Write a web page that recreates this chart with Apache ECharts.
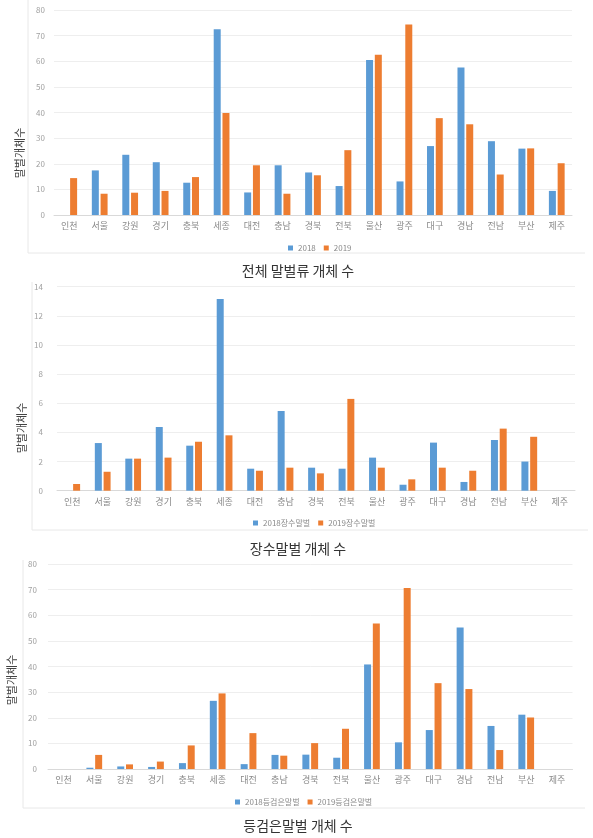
<!DOCTYPE html>
<html>
<head>
<meta charset="utf-8">
<script src="https://cdn.jsdelivr.net/npm/echarts@6/dist/echarts.min.js"></script>
<style>
html,body{margin:0;padding:0;background:#fff;}
#c{width:593px;height:838px;}
</style>
</head>
<body>
<div id="c"></div>
<script>
const categories = ['인천','서울','강원','경기','충북','세종','대전','충남','경북','전북','울산','광주','대구','경남','전남','부산','제주'];
const total2018 = [0,17.4,23.5,20.6,12.6,72.5,8.8,19.4,16.6,11.3,60.5,13.1,26.9,57.6,28.8,25.9,9.4];
const total2019 = [14.4,8.3,8.7,9.4,14.8,39.8,19.4,8.3,15.5,25.3,62.5,74.3,37.8,35.4,15.8,26,20.2];
const jangsu2018 = [0,3.27,2.2,4.37,3.09,13.16,1.51,5.47,1.58,1.51,2.27,0.41,3.3,0.6,3.48,2.0,0];
const jangsu2019 = [0.46,1.3,2.2,2.27,3.36,3.8,1.37,1.58,1.19,6.3,1.58,0.78,1.58,1.37,4.26,3.7,0];
const deung2018 = [0,0.5,1.0,0.8,2.3,26.6,1.9,5.5,5.6,4.4,40.8,10.4,15.2,55.2,16.8,21.2,0];
const deung2019 = [0,5.5,1.8,2.9,9.2,29.5,14.0,5.2,10.1,15.7,56.8,70.6,33.5,31.2,7.4,20.1,0];
const names1 = ['2018','2019'];
const names2 = ['2018장수말벌','2019장수말벌'];
const names3 = ['2018등검은말벌','2019등검은말벌'];
const yTitle = '말벌개체수';
const captions = ['전체 말벌류 개체 수','장수말벌 개체 수','등검은말벌 개체 수'];

const FONT = '"Noto Sans CJK KR", "Noto Sans", sans-serif';
const BLUE = '#5B9BD5', ORANGE = '#ED7D31';
const chart = echarts.init(document.getElementById('c'), null, {renderer:'canvas'});

const grids = [
  {left:54, top:10, width:518, height:205},
  {left:57, top:286.7, width:518, height:204},
  {left:48, top:564, width:524.5, height:205}
];
const yCfg = [
  {max:80, interval:10, margin:9},
  {max:14, interval:2, margin:14},
  {max:80, interval:10, margin:11}
];
const xAxes = grids.map((g,i)=>({
  type:'category', gridIndex:i, data:categories,
  axisLine:{lineStyle:{color:'#d9d9d9'}}, axisTick:{show:false},
  axisLabel:{color:'#8a8a8a', fontSize:9, fontFamily:FONT, margin:6, interval:0}
}));
const yAxes = yCfg.map((c,i)=>({
  type:'value', gridIndex:i, min:0, max:c.max, interval:c.interval,
  axisLine:{show:false}, axisTick:{show:false},
  splitLine:{lineStyle:{color:'#eeeeee'}},
  axisLabel:{color:'#a0a0a0', fontSize:8, fontFamily:FONT, margin:c.margin}
}));
function bar(name, data, idx, color){
  return {name, type:'bar', xAxisIndex:idx, yAxisIndex:idx, data,
    barWidth:7, barGap:'25%', itemStyle:{color}, animation:false};
}
const series = [
  bar(names1[0], total2018, 0, BLUE), bar(names1[1], total2019, 0, ORANGE),
  bar(names2[0], jangsu2018, 1, BLUE), bar(names2[1], jangsu2019, 1, ORANGE),
  bar(names3[0], deung2018, 2, BLUE), bar(names3[1], deung2019, 2, ORANGE)
];
const legendBase = {itemWidth:5, itemHeight:5, itemGap:8, icon:'rect',
  textStyle:{color:'#8a8a8a', fontSize:8, fontFamily:FONT}};
const legends = [
  Object.assign({data:names1, top:239}, legendBase, {left:283}),
  Object.assign({data:names2, top:514}, legendBase, {left:248}),
  Object.assign({data:names3, top:793}, legendBase, {left:230})
];
const frameColor = '#e8e8e8';
const graphic = [
  {type:'line', shape:{x1:28,y1:0,x2:28,y2:253}, style:{stroke:frameColor, lineWidth:1}},
  {type:'line', shape:{x1:28,y1:253,x2:585,y2:253}, style:{stroke:frameColor, lineWidth:1}},
  {type:'line', shape:{x1:32,y1:282,x2:32,y2:530}, style:{stroke:frameColor, lineWidth:1}},
  {type:'line', shape:{x1:32,y1:530,x2:588,y2:530}, style:{stroke:frameColor, lineWidth:1}},
  {type:'line', shape:{x1:23,y1:560,x2:23,y2:808}, style:{stroke:frameColor, lineWidth:1}},
  {type:'line', shape:{x1:23,y1:808,x2:585,y2:808}, style:{stroke:frameColor, lineWidth:1}},
  {type:'text', x:20, y:153, rotation:Math.PI/2, style:{text:yTitle, fill:'#444', font:'11px '+FONT, textAlign:'center', textVerticalAlign:'middle'}},
  {type:'text', x:22, y:428, rotation:Math.PI/2, style:{text:yTitle, fill:'#444', font:'11px '+FONT, textAlign:'center', textVerticalAlign:'middle'}},
  {type:'text', x:12, y:680, rotation:Math.PI/2, style:{text:yTitle, fill:'#444', font:'11px '+FONT, textAlign:'center', textVerticalAlign:'middle'}},
  {type:'text', x:298, y:271, style:{text:captions[0], fill:'#333', font:'14px '+FONT, textAlign:'center', textVerticalAlign:'middle'}},
  {type:'text', x:298, y:549, style:{text:captions[1], fill:'#333', font:'14px '+FONT, textAlign:'center', textVerticalAlign:'middle'}},
  {type:'text', x:298, y:826, style:{text:captions[2], fill:'#333', font:'14px '+FONT, textAlign:'center', textVerticalAlign:'middle'}}
];
chart.setOption({
  animation:false,
  backgroundColor:'#fff',
  grid:grids, xAxis:xAxes, yAxis:yAxes, series, legend:legends, graphic
});
</script>
</body>
</html>
